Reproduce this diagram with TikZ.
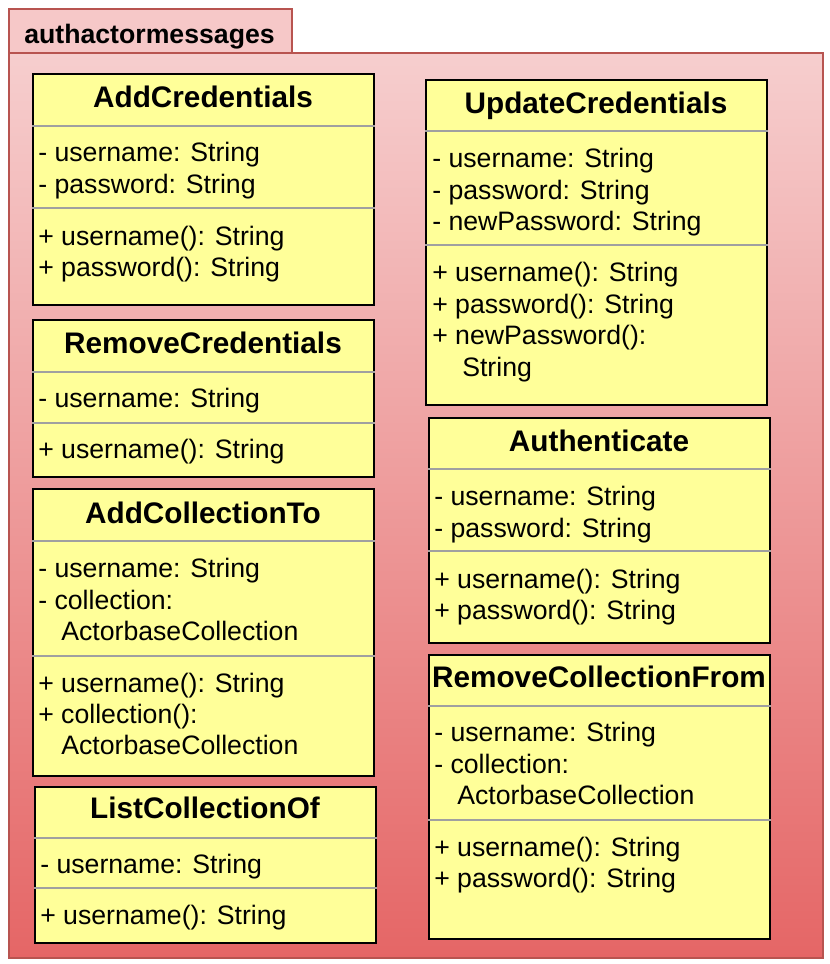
\documentclass[tikz,border=0pt]{standalone}
\usepackage{fontspec}
\setmainfont{Liberation Sans}
\usetikzlibrary{fit}
\definecolor{umlyellow}{RGB}{255,255,153}
\definecolor{pkgborder}{RGB}{184,84,80}
\definecolor{pkgtab}{RGB}{246,200,200}
\definecolor{pkgtop}{RGB}{246,206,206}
\definecolor{pkgbottom}{RGB}{229,102,102}
\definecolor{sepgray}{RGB}{160,160,160}
\begin{document}
\begin{tikzpicture}[x=0.75pt,y=-0.75pt,
  cls/.style={draw=black, line width=1.5pt, fill=umlyellow, inner sep=0pt},
  ttl/.style={font=\bfseries\fontsize{22.3}{26}\selectfont, inner sep=0pt, text height=0.72em, text depth=0.21em, yshift=-5pt},
  txt/.style={font=\fontsize{20}{24}\selectfont, anchor=west, inner sep=0pt, text height=0.72em, text depth=0.21em, yshift=-4.5pt},
  sepline/.style={draw=sepgray, line width=0.9pt},
  pkg/.style={draw=pkgborder, line width=2.2pt, inner sep=0pt}]
\useasboundingbox (0,0) rectangle (830,964);
% package
\node[pkg, fill=pkgtab, fit={(9,9) (292,53)}] (tab) {};
\node[font=\bfseries\fontsize{20}{24}\selectfont, anchor=west, inner sep=0pt, text height=0.72em, text depth=0.21em, yshift=-4pt] (pkgname) at (24,35) {authactormessages};
\node[pkg, top color=pkgtop, bottom color=pkgbottom, fit={(9,53) (823,958)}] (frame) {};

% AddCredentials
\node[cls, fit={(33,74) (374,305)}] (b1) {};
\node[ttl] (b1t) at (203,97) {AddCredentials};
\draw[sepline] (b1.west |- 0,126) -- (b1.east |- 0,126);
\draw[sepline] (b1.west |- 0,208) -- (b1.east |- 0,208);
\node[txt] (b1a1) at (38,152) {- username: String};
\node[txt] (b1a2) at (38,184) {- password: String};
\node[txt] (b1m1) at (38,236) {+ username(): String};
\node[txt] (b1m2) at (38,267) {+ password(): String};

% RemoveCredentials
\node[cls, fit={(33,320) (374,477)}] (b2) {};
\node[ttl] (b2t) at (203,343) {RemoveCredentials};
\draw[sepline] (b2.west |- 0,372) -- (b2.east |- 0,372);
\draw[sepline] (b2.west |- 0,423) -- (b2.east |- 0,423);
\node[txt] (b2a1) at (38,398) {- username: String};
\node[txt] (b2m1) at (38,449) {+ username(): String};

% AddCollectionTo
\node[cls, fit={(33,489) (374,776)}] (b3) {};
\node[ttl] (b3t) at (203,513) {AddCollectionTo};
\draw[sepline] (b3.west |- 0,541) -- (b3.east |- 0,541);
\draw[sepline] (b3.west |- 0,656) -- (b3.east |- 0,656);
\node[txt] (b3a1) at (38,568) {- username: String};
\node[txt] (b3a2) at (38,600) {- collection:};
\node[txt] (b3a3) at (61,631) {ActorbaseCollection};
\node[txt] (b3m1) at (38,683) {+ username(): String};
\node[txt] (b3m2) at (38,714) {+ collection():};
\node[txt] (b3m3) at (61,745) {ActorbaseCollection};

% ListCollectionOf
\node[cls, fit={(35,787) (376,943)}] (b4) {};
\node[ttl] (b4t) at (205,808) {ListCollectionOf};
\draw[sepline] (b4.west |- 0,838) -- (b4.east |- 0,838);
\draw[sepline] (b4.west |- 0,888) -- (b4.east |- 0,888);
\node[txt] (b4a1) at (40,864) {- username: String};
\node[txt] (b4m1) at (40,915) {+ username(): String};

% UpdateCredentials
\node[cls, fit={(426,80) (767,405)}] (b5) {};
\node[ttl] (b5t) at (596,103) {UpdateCredentials};
\draw[sepline] (b5.west |- 0,131) -- (b5.east |- 0,131);
\draw[sepline] (b5.west |- 0,245) -- (b5.east |- 0,245);
\node[txt] (b5a1) at (432,158) {- username: String};
\node[txt] (b5a2) at (432,190) {- password: String};
\node[txt] (b5a3) at (432,221) {- newPassword: String};
\node[txt] (b5m1) at (432,272) {+ username(): String};
\node[txt] (b5m2) at (432,304) {+ password(): String};
\node[txt] (b5m3) at (432,335) {+ newPassword():};
\node[txt] (b5m4) at (462,367) {String};

% Authenticate
\node[cls, fit={(429,418) (770,643)}] (b6) {};
\node[ttl] (b6t) at (599,441) {Authenticate};
\draw[sepline] (b6.west |- 0,469) -- (b6.east |- 0,469);
\draw[sepline] (b6.west |- 0,551) -- (b6.east |- 0,551);
\node[txt] (b6a1) at (434,496) {- username: String};
\node[txt] (b6a2) at (434,528) {- password: String};
\node[txt] (b6m1) at (434,579) {+ username(): String};
\node[txt] (b6m2) at (434,610) {+ password(): String};

% RemoveCollectionFrom
\node[cls, fit={(429,655) (770,939)}] (b7) {};
\node[ttl] (b7t) at (599,677) {RemoveCollectionFrom};
\draw[sepline] (b7.west |- 0,706) -- (b7.east |- 0,706);
\draw[sepline] (b7.west |- 0,820) -- (b7.east |- 0,820);
\node[txt] (b7a1) at (434,732) {- username: String};
\node[txt] (b7a2) at (434,764) {- collection:};
\node[txt] (b7a3) at (457,795) {ActorbaseCollection};
\node[txt] (b7m1) at (434,847) {+ username(): String};
\node[txt] (b7m2) at (434,878) {+ password(): String};
\end{tikzpicture}
\end{document}
